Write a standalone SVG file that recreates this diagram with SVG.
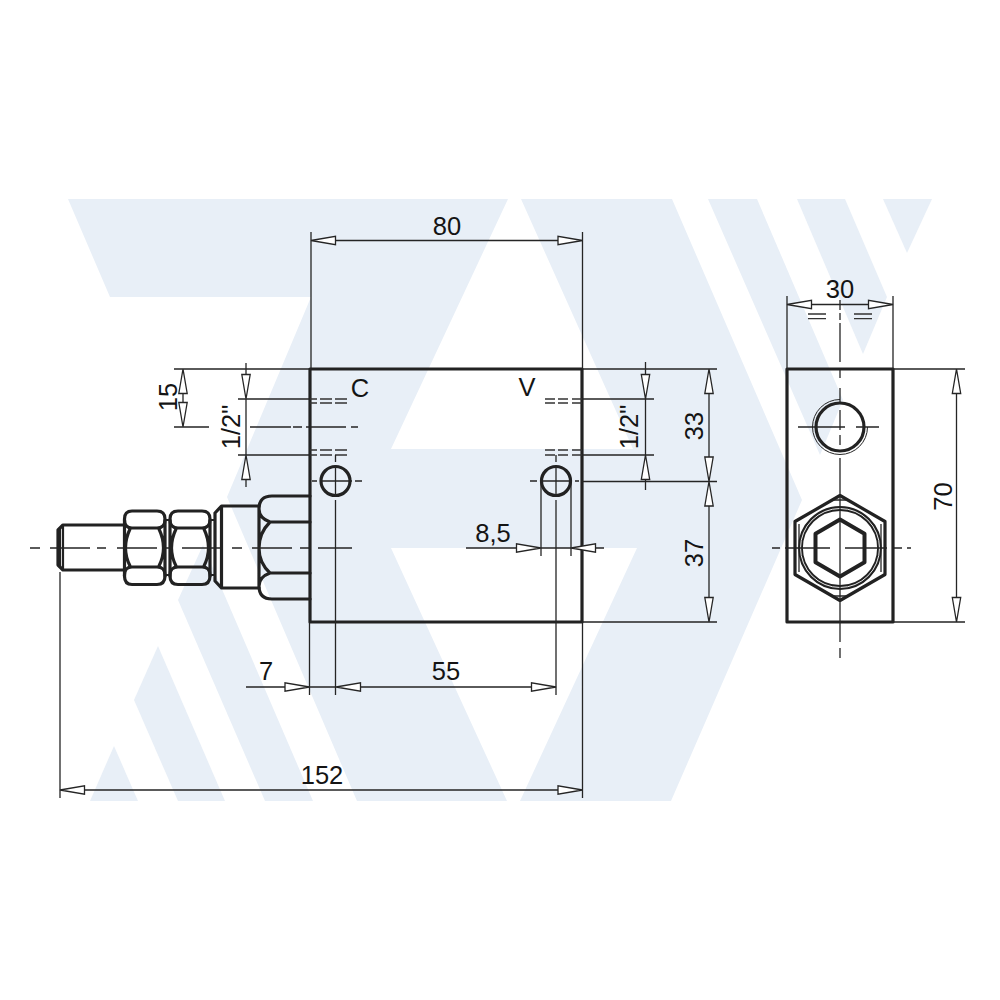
<svg xmlns="http://www.w3.org/2000/svg" xmlns:xlink="http://www.w3.org/1999/xlink" width="1000" height="1000" viewBox="0 0 1000 1000">
<style>
.bg{fill:#e8eff7;stroke:none}
.thick{fill:none;stroke:#222;stroke-width:3.2;stroke-linejoin:round;stroke-linecap:round}
.mid{fill:none;stroke:#222;stroke-width:2.2}
.thin{fill:none;stroke:#252525;stroke-width:1.3}
.hid{fill:none;stroke:#333;stroke-width:1.3}
.ar{fill:#fff;stroke:#252525;stroke-width:1.3;stroke-linejoin:miter}
text{font-family:"Liberation Sans",Arial,sans-serif;font-size:25.5px;fill:#141414;text-anchor:middle}
</style>
<defs><path id="a" class="ar" d="M0 0L-24.5 -4.2V4.2Z"/></defs>
<rect width="1000" height="1000" fill="#fff"/>
<g id="background">
<polygon class="bg" points="68,199 508,199 391,449 633,449 521,199 672,199 802,500 671,801 520,801 637,548 391,548 507,801 357,801 227,497 311,297 110,297"/>
<polygon class="bg" points="203,545 313,801 265,801 178,600"/>
<polygon class="bg" points="158,646 225,801 178,801 134,700"/>
<polygon class="bg" points="114,746 138,801 90,801"/>
<polygon class="bg" points="708,199 757,199 843,400 820,455"/>
<polygon class="bg" points="797,199 845,199 887,297 863,354"/>
<polygon class="bg" points="883,199 932,199 907,253"/>
</g>
<g id="front-view">
<rect class="thick" x="310" y="369" width="272" height="253"/>
<circle class="thick" cx="335.5" cy="481" r="14.5"/>
<circle class="thick" cx="556" cy="481" r="14.5"/>
<path class="hid" d="M310 399H317M320 399H332M335 399H347M310 403H317M320 403H332M335 403H347M310 450H317M320 450H332M335 450H347M310 455H317M320 455H332M335 455H347M545 399H555M558 399H568M572 399H582M545 403H555M558 403H568M572 403H582M545 450H555M558 450H568M572 450H582M545 455H555M558 455H568M572 455H582"/>
<path class="thin" d="M250 427H291M293 427H302M306 427H346M351 427H358M312 481H317M320 481H352M355 481H362M335.5 455V462M335.5 465V497M335.5 500V695M530 481H537M540 481H572M575 481H579M556 455V462M556 465V497M556 500V695"/>
<text x="360" y="397">C</text>
<text x="527" y="396">V</text>
</g>
<g id="fitting">
<path class="thick" d="M124 525H63L58 530V565L63 570H124"/>
<path class="mid" d="M63 526V569M60 529V566"/>
<path class="thick" d="M132 511H157Q165 511 165 519V520Q165 528 157 528H132Q124.500 528 124.500 520V519Q124.500 511 132 511ZM132 567H157Q165 567 165 575V576Q165 584.500 157 584.500H132Q124.500 584.500 124.500 576V575Q124.500 567 132 567Z"/>
<path class="thick" d="M124.500 520V576M165 520V576M130 529Q121 548 130 566M159 529Q168 548 159 566"/>
<path class="thick" d="M178 511H202Q210 511 210 519V520Q210 528 202 528H178Q170 528 170 520V519Q170 511 178 511ZM178 567H202Q210 567 210 575V576Q210 584.500 202 584.500H178Q170 584.500 170 576V575Q170 567 178 567Z"/>
<path class="thick" d="M170 520V576M210 520V576M176 529Q167 548 176 566M204 529Q213 548 204 566"/>
<path class="mid" d="M165 520H170M165 575H170M210 520H215M210 575H215"/>
<path class="thick" d="M215 513L221.500 506H259M215 513V581L221.500 588H259M221.500 506V588"/>
<path class="thick" d="M310 496H272Q259 496 259 509Q259 518 270 522H310M310 599H272Q259 599 259 586Q259 577 270 573H310M259 506V588M270 522Q259 533 259 548Q259 563 270 573"/>
<path class="thin" d="M30 548H40M50 548H90M97 548H106M117 548H157M164 548H173M182 548H223M232 548H242M252 548H292M300 548H310M318 548H352"/>
</g>
<g id="side-view">
<rect class="thick" x="787" y="369" width="106" height="253"/>
<path class="thin" style="stroke-width:1" d="M840 399.500A27.500 27.500 0 1 0 867.500 427"/>
<circle class="thick" cx="840" cy="427" r="24"/>
<polygon class="thick" points="840,495.500 885,521.500 885,574.500 840,600.500 795,574.500 795,521.500"/>
<circle cx="840" cy="548" r="39.500" fill="none" stroke="#222" stroke-width="4.800"/>
<circle cx="840" cy="548" r="39.500" fill="none" stroke="#fff" stroke-width="0.900"/>
<path class="thin" d="M834 500H846M834 596H846M799 524V572M881 524V572"/>
<polygon class="thick" style="stroke-width:4" points="840,519.500 864.500,533.700 864.500,562.300 840,576.500 815.500,562.300 815.500,533.700"/>
<path class="thin" d="M840 300V310M840 313V320M840 323V362M840 370V378M840 388V403M840 410V430M840 435V445M840 458V622M840 622V642M840 648V658M798 427H845M856 427H879M772 548H780M785 548H830M845 548H887M894 548H902M907 548H911"/>
<path class="hid" d="M808 314H826M808 318.700H826M854 314H872M854 318.700H872"/>
</g>
<g id="dimensions">
<path class="thin" d="M311 232V369M582.500 232V369M335.500 240.500H558M174 369H310M174 427H209M183 393V402M238 399H310M238 455H310M246 363V375M246 399V455M246 479V487M582 369H717M582 399H654M582 455H654M582 481.500H717M582 622H717M645.500 362V375M645.500 399V455M645.500 479V490M709 393V457M709 505V598M787 296V369M893 296V369M811 304.500H868M893 369H965M893 622H965M956.500 393V598M541 481V556M571 481V556M466 548H517M541 548H571M595 548H604M246 687H285M309.500 622V695M309.500 687H336M360 687H531M582.500 622V798M60 572V798M84 790H558"/>
<use xlink:href="#a" href="#a" transform="translate(311 240.500) rotate(180)"/>
<use xlink:href="#a" href="#a" transform="translate(582.500 240.500)"/>
<use xlink:href="#a" href="#a" transform="translate(183 369) rotate(-90)"/>
<use xlink:href="#a" href="#a" transform="translate(183 427) rotate(90)"/>
<use xlink:href="#a" href="#a" transform="translate(246 399) rotate(90)"/>
<use xlink:href="#a" href="#a" transform="translate(246 455) rotate(-90)"/>
<use xlink:href="#a" href="#a" transform="translate(645.500 399) rotate(90)"/>
<use xlink:href="#a" href="#a" transform="translate(645.500 455) rotate(-90)"/>
<use xlink:href="#a" href="#a" transform="translate(709 369) rotate(-90)"/>
<use xlink:href="#a" href="#a" transform="translate(709 481.500) rotate(90)"/>
<use xlink:href="#a" href="#a" transform="translate(709 481.500) rotate(-90)"/>
<use xlink:href="#a" href="#a" transform="translate(709 622) rotate(90)"/>
<use xlink:href="#a" href="#a" transform="translate(541 548)"/>
<use xlink:href="#a" href="#a" transform="translate(571 548) rotate(180)"/>
<use xlink:href="#a" href="#a" transform="translate(309.500 687)"/>
<use xlink:href="#a" href="#a" transform="translate(336 687) rotate(180)"/>
<use xlink:href="#a" href="#a" transform="translate(556 687)"/>
<use xlink:href="#a" href="#a" transform="translate(60 790) rotate(180)"/>
<use xlink:href="#a" href="#a" transform="translate(582.500 790)"/>
<use xlink:href="#a" href="#a" transform="translate(787 304.500) rotate(180)"/>
<use xlink:href="#a" href="#a" transform="translate(893 304.500)"/>
<use xlink:href="#a" href="#a" transform="translate(956.500 369) rotate(-90)"/>
<use xlink:href="#a" href="#a" transform="translate(956.500 622) rotate(90)"/>
<text x="447" y="235">80</text>
<text x="840" y="297.500">30</text>
<text x="266" y="680">7</text>
<text x="446" y="680">55</text>
<text x="322" y="784">152</text>
<text x="493" y="542">8,5</text>
<text transform="translate(177 397) rotate(-90)">15</text>
<text transform="translate(240 427) rotate(-90)">1/2"</text>
<text transform="translate(638 427) rotate(-90)">1/2"</text>
<text transform="translate(703 426) rotate(-90)">33</text>
<text transform="translate(703 553) rotate(-90)">37</text>
<text transform="translate(952 496.500) rotate(-90)">70</text>
</g>
</svg>
